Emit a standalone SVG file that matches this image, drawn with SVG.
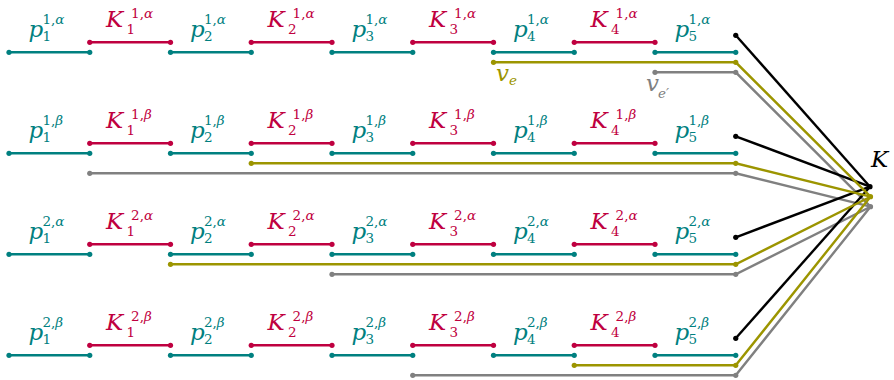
<svg xmlns="http://www.w3.org/2000/svg" width="894" height="380" viewBox="0 0 894 380">
<style>
.m{font-family:"DejaVu Serif",serif;font-style:italic;font-size:23px}
.s{font-family:"DejaVu Serif",serif;font-size:13.5px}
.i{font-style:italic}
.ct{fill:#008080}.cr{fill:#BF0040}.co{fill:#9C9500}.cg{fill:#808080}.ck{fill:#000}
.lt,.lr,.lo,.lg,.lk{stroke-width:2.4;fill:none}
.lt{stroke:#008080}.lr{stroke:#BF0040}.lo{stroke:#9C9500}.lg{stroke:#808080}.lk{stroke:#000}
</style>
<defs>
<circle id="d" r="2.6"/>
</defs>

<!-- Row 1 alpha -->
<g id="row-1a">
<g id="p1-1a"><line class="lt" x1="9" y1="52.3" x2="89.75" y2="52.3"/><use href="#d" class="ct" x="9" y="52.3"/><use href="#d" class="ct" x="89.75" y="52.3"/>
<text class="m ct" x="28.4" y="36.8">p</text><text class="s ct" x="42.4" y="40.8">1</text><text class="s ct" x="42.4" y="23.8">1,<tspan class="i">α</tspan></text></g>
<g id="K1-1a"><line class="lr" x1="89.75" y1="42.3" x2="170.5" y2="42.3"/><use href="#d" class="cr" x="89.75" y="42.3"/><use href="#d" class="cr" x="170.5" y="42.3"/>
<text class="m cr" x="106.1" y="26.7">K</text><text class="s cr" x="126.5" y="34.3">1</text><text class="s cr" x="131.1" y="17.8">1,<tspan class="i">α</tspan></text></g>
<g id="p2-1a"><line class="lt" x1="170.5" y1="52.3" x2="251.25" y2="52.3"/><use href="#d" class="ct" x="170.5" y="52.3"/><use href="#d" class="ct" x="251.25" y="52.3"/>
<text class="m ct" x="189.9" y="36.8">p</text><text class="s ct" x="203.9" y="40.8">2</text><text class="s ct" x="203.9" y="23.8">1,<tspan class="i">α</tspan></text></g>
<g id="K2-1a"><line class="lr" x1="251.25" y1="42.3" x2="332" y2="42.3"/><use href="#d" class="cr" x="251.25" y="42.3"/><use href="#d" class="cr" x="332" y="42.3"/>
<text class="m cr" x="267.6" y="26.7">K</text><text class="s cr" x="288" y="34.3">2</text><text class="s cr" x="292.6" y="17.8">1,<tspan class="i">α</tspan></text></g>
<g id="p3-1a"><line class="lt" x1="332" y1="52.3" x2="412.75" y2="52.3"/><use href="#d" class="ct" x="332" y="52.3"/><use href="#d" class="ct" x="412.75" y="52.3"/>
<text class="m ct" x="351.4" y="36.8">p</text><text class="s ct" x="365.4" y="40.8">3</text><text class="s ct" x="365.4" y="23.8">1,<tspan class="i">α</tspan></text></g>
<g id="K3-1a"><line class="lr" x1="412.75" y1="42.3" x2="493.5" y2="42.3"/><use href="#d" class="cr" x="412.75" y="42.3"/><use href="#d" class="cr" x="493.5" y="42.3"/>
<text class="m cr" x="429.1" y="26.7">K</text><text class="s cr" x="449.5" y="34.3">3</text><text class="s cr" x="454.1" y="17.8">1,<tspan class="i">α</tspan></text></g>
<g id="p4-1a"><line class="lt" x1="493.5" y1="52.3" x2="574.25" y2="52.3"/><use href="#d" class="ct" x="493.5" y="52.3"/><use href="#d" class="ct" x="574.25" y="52.3"/>
<text class="m ct" x="512.9" y="36.8">p</text><text class="s ct" x="526.9" y="40.8">4</text><text class="s ct" x="526.9" y="23.8">1,<tspan class="i">α</tspan></text></g>
<g id="K4-1a"><line class="lr" x1="574.25" y1="42.3" x2="655" y2="42.3"/><use href="#d" class="cr" x="574.25" y="42.3"/><use href="#d" class="cr" x="655" y="42.3"/>
<text class="m cr" x="590.6" y="26.7">K</text><text class="s cr" x="611" y="34.3">4</text><text class="s cr" x="615.6" y="17.8">1,<tspan class="i">α</tspan></text></g>
<g id="p5-1a"><line class="lt" x1="655" y1="52.3" x2="735.75" y2="52.3"/><use href="#d" class="ct" x="655" y="52.3"/><use href="#d" class="ct" x="735.75" y="52.3"/>
<text class="m ct" x="674.4" y="36.8">p</text><text class="s ct" x="688.4" y="40.8">5</text><text class="s ct" x="688.4" y="23.8">1,<tspan class="i">α</tspan></text></g>
</g>

<!-- Row 1 beta -->
<g id="row-1b">
<g id="p1-1b"><line class="lt" x1="9" y1="153.3" x2="89.75" y2="153.3"/><use href="#d" class="ct" x="9" y="153.3"/><use href="#d" class="ct" x="89.75" y="153.3"/>
<text class="m ct" x="28.4" y="137.8">p</text><text class="s ct" x="42.4" y="141.8">1</text><text class="s ct" x="42.4" y="124.8">1,<tspan class="i">β</tspan></text></g>
<g id="K1-1b"><line class="lr" x1="89.75" y1="143.3" x2="170.5" y2="143.3"/><use href="#d" class="cr" x="89.75" y="143.3"/><use href="#d" class="cr" x="170.5" y="143.3"/>
<text class="m cr" x="106.1" y="127.7">K</text><text class="s cr" x="126.5" y="135.3">1</text><text class="s cr" x="131.1" y="118.8">1,<tspan class="i">β</tspan></text></g>
<g id="p2-1b"><line class="lt" x1="170.5" y1="153.3" x2="251.25" y2="153.3"/><use href="#d" class="ct" x="170.5" y="153.3"/><use href="#d" class="ct" x="251.25" y="153.3"/>
<text class="m ct" x="189.9" y="137.8">p</text><text class="s ct" x="203.9" y="141.8">2</text><text class="s ct" x="203.9" y="124.8">1,<tspan class="i">β</tspan></text></g>
<g id="K2-1b"><line class="lr" x1="251.25" y1="143.3" x2="332" y2="143.3"/><use href="#d" class="cr" x="251.25" y="143.3"/><use href="#d" class="cr" x="332" y="143.3"/>
<text class="m cr" x="267.6" y="127.7">K</text><text class="s cr" x="288" y="135.3">2</text><text class="s cr" x="292.6" y="118.8">1,<tspan class="i">β</tspan></text></g>
<g id="p3-1b"><line class="lt" x1="332" y1="153.3" x2="412.75" y2="153.3"/><use href="#d" class="ct" x="332" y="153.3"/><use href="#d" class="ct" x="412.75" y="153.3"/>
<text class="m ct" x="351.4" y="137.8">p</text><text class="s ct" x="365.4" y="141.8">3</text><text class="s ct" x="365.4" y="124.8">1,<tspan class="i">β</tspan></text></g>
<g id="K3-1b"><line class="lr" x1="412.75" y1="143.3" x2="493.5" y2="143.3"/><use href="#d" class="cr" x="412.75" y="143.3"/><use href="#d" class="cr" x="493.5" y="143.3"/>
<text class="m cr" x="429.1" y="127.7">K</text><text class="s cr" x="449.5" y="135.3">3</text><text class="s cr" x="454.1" y="118.8">1,<tspan class="i">β</tspan></text></g>
<g id="p4-1b"><line class="lt" x1="493.5" y1="153.3" x2="574.25" y2="153.3"/><use href="#d" class="ct" x="493.5" y="153.3"/><use href="#d" class="ct" x="574.25" y="153.3"/>
<text class="m ct" x="512.9" y="137.8">p</text><text class="s ct" x="526.9" y="141.8">4</text><text class="s ct" x="526.9" y="124.8">1,<tspan class="i">β</tspan></text></g>
<g id="K4-1b"><line class="lr" x1="574.25" y1="143.3" x2="655" y2="143.3"/><use href="#d" class="cr" x="574.25" y="143.3"/><use href="#d" class="cr" x="655" y="143.3"/>
<text class="m cr" x="590.6" y="127.7">K</text><text class="s cr" x="611" y="135.3">4</text><text class="s cr" x="615.6" y="118.8">1,<tspan class="i">β</tspan></text></g>
<g id="p5-1b"><line class="lt" x1="655" y1="153.3" x2="735.75" y2="153.3"/><use href="#d" class="ct" x="655" y="153.3"/><use href="#d" class="ct" x="735.75" y="153.3"/>
<text class="m ct" x="674.4" y="137.8">p</text><text class="s ct" x="688.4" y="141.8">5</text><text class="s ct" x="688.4" y="124.8">1,<tspan class="i">β</tspan></text></g>
</g>

<!-- Row 2 alpha -->
<g id="row-2a">
<g id="p1-2a"><line class="lt" x1="9" y1="254.3" x2="89.75" y2="254.3"/><use href="#d" class="ct" x="9" y="254.3"/><use href="#d" class="ct" x="89.75" y="254.3"/>
<text class="m ct" x="28.4" y="238.8">p</text><text class="s ct" x="42.4" y="242.8">1</text><text class="s ct" x="42.4" y="225.8">2,<tspan class="i">α</tspan></text></g>
<g id="K1-2a"><line class="lr" x1="89.75" y1="244.3" x2="170.5" y2="244.3"/><use href="#d" class="cr" x="89.75" y="244.3"/><use href="#d" class="cr" x="170.5" y="244.3"/>
<text class="m cr" x="106.1" y="228.7">K</text><text class="s cr" x="126.5" y="236.3">1</text><text class="s cr" x="131.1" y="219.8">2,<tspan class="i">α</tspan></text></g>
<g id="p2-2a"><line class="lt" x1="170.5" y1="254.3" x2="251.25" y2="254.3"/><use href="#d" class="ct" x="170.5" y="254.3"/><use href="#d" class="ct" x="251.25" y="254.3"/>
<text class="m ct" x="189.9" y="238.8">p</text><text class="s ct" x="203.9" y="242.8">2</text><text class="s ct" x="203.9" y="225.8">2,<tspan class="i">α</tspan></text></g>
<g id="K2-2a"><line class="lr" x1="251.25" y1="244.3" x2="332" y2="244.3"/><use href="#d" class="cr" x="251.25" y="244.3"/><use href="#d" class="cr" x="332" y="244.3"/>
<text class="m cr" x="267.6" y="228.7">K</text><text class="s cr" x="288" y="236.3">2</text><text class="s cr" x="292.6" y="219.8">2,<tspan class="i">α</tspan></text></g>
<g id="p3-2a"><line class="lt" x1="332" y1="254.3" x2="412.75" y2="254.3"/><use href="#d" class="ct" x="332" y="254.3"/><use href="#d" class="ct" x="412.75" y="254.3"/>
<text class="m ct" x="351.4" y="238.8">p</text><text class="s ct" x="365.4" y="242.8">3</text><text class="s ct" x="365.4" y="225.8">2,<tspan class="i">α</tspan></text></g>
<g id="K3-2a"><line class="lr" x1="412.75" y1="244.3" x2="493.5" y2="244.3"/><use href="#d" class="cr" x="412.75" y="244.3"/><use href="#d" class="cr" x="493.5" y="244.3"/>
<text class="m cr" x="429.1" y="228.7">K</text><text class="s cr" x="449.5" y="236.3">3</text><text class="s cr" x="454.1" y="219.8">2,<tspan class="i">α</tspan></text></g>
<g id="p4-2a"><line class="lt" x1="493.5" y1="254.3" x2="574.25" y2="254.3"/><use href="#d" class="ct" x="493.5" y="254.3"/><use href="#d" class="ct" x="574.25" y="254.3"/>
<text class="m ct" x="512.9" y="238.8">p</text><text class="s ct" x="526.9" y="242.8">4</text><text class="s ct" x="526.9" y="225.8">2,<tspan class="i">α</tspan></text></g>
<g id="K4-2a"><line class="lr" x1="574.25" y1="244.3" x2="655" y2="244.3"/><use href="#d" class="cr" x="574.25" y="244.3"/><use href="#d" class="cr" x="655" y="244.3"/>
<text class="m cr" x="590.6" y="228.7">K</text><text class="s cr" x="611" y="236.3">4</text><text class="s cr" x="615.6" y="219.8">2,<tspan class="i">α</tspan></text></g>
<g id="p5-2a"><line class="lt" x1="655" y1="254.3" x2="735.75" y2="254.3"/><use href="#d" class="ct" x="655" y="254.3"/><use href="#d" class="ct" x="735.75" y="254.3"/>
<text class="m ct" x="674.4" y="238.8">p</text><text class="s ct" x="688.4" y="242.8">5</text><text class="s ct" x="688.4" y="225.8">2,<tspan class="i">α</tspan></text></g>
</g>

<!-- Row 2 beta -->
<g id="row-2b">
<g id="p1-2b"><line class="lt" x1="9" y1="355.3" x2="89.75" y2="355.3"/><use href="#d" class="ct" x="9" y="355.3"/><use href="#d" class="ct" x="89.75" y="355.3"/>
<text class="m ct" x="28.4" y="339.8">p</text><text class="s ct" x="42.4" y="343.8">1</text><text class="s ct" x="42.4" y="326.8">2,<tspan class="i">β</tspan></text></g>
<g id="K1-2b"><line class="lr" x1="89.75" y1="345.3" x2="170.5" y2="345.3"/><use href="#d" class="cr" x="89.75" y="345.3"/><use href="#d" class="cr" x="170.5" y="345.3"/>
<text class="m cr" x="106.1" y="329.7">K</text><text class="s cr" x="126.5" y="337.3">1</text><text class="s cr" x="131.1" y="320.8">2,<tspan class="i">β</tspan></text></g>
<g id="p2-2b"><line class="lt" x1="170.5" y1="355.3" x2="251.25" y2="355.3"/><use href="#d" class="ct" x="170.5" y="355.3"/><use href="#d" class="ct" x="251.25" y="355.3"/>
<text class="m ct" x="189.9" y="339.8">p</text><text class="s ct" x="203.9" y="343.8">2</text><text class="s ct" x="203.9" y="326.8">2,<tspan class="i">β</tspan></text></g>
<g id="K2-2b"><line class="lr" x1="251.25" y1="345.3" x2="332" y2="345.3"/><use href="#d" class="cr" x="251.25" y="345.3"/><use href="#d" class="cr" x="332" y="345.3"/>
<text class="m cr" x="267.6" y="329.7">K</text><text class="s cr" x="288" y="337.3">2</text><text class="s cr" x="292.6" y="320.8">2,<tspan class="i">β</tspan></text></g>
<g id="p3-2b"><line class="lt" x1="332" y1="355.3" x2="412.75" y2="355.3"/><use href="#d" class="ct" x="332" y="355.3"/><use href="#d" class="ct" x="412.75" y="355.3"/>
<text class="m ct" x="351.4" y="339.8">p</text><text class="s ct" x="365.4" y="343.8">3</text><text class="s ct" x="365.4" y="326.8">2,<tspan class="i">β</tspan></text></g>
<g id="K3-2b"><line class="lr" x1="412.75" y1="345.3" x2="493.5" y2="345.3"/><use href="#d" class="cr" x="412.75" y="345.3"/><use href="#d" class="cr" x="493.5" y="345.3"/>
<text class="m cr" x="429.1" y="329.7">K</text><text class="s cr" x="449.5" y="337.3">3</text><text class="s cr" x="454.1" y="320.8">2,<tspan class="i">β</tspan></text></g>
<g id="p4-2b"><line class="lt" x1="493.5" y1="355.3" x2="574.25" y2="355.3"/><use href="#d" class="ct" x="493.5" y="355.3"/><use href="#d" class="ct" x="574.25" y="355.3"/>
<text class="m ct" x="512.9" y="339.8">p</text><text class="s ct" x="526.9" y="343.8">4</text><text class="s ct" x="526.9" y="326.8">2,<tspan class="i">β</tspan></text></g>
<g id="K4-2b"><line class="lr" x1="574.25" y1="345.3" x2="655" y2="345.3"/><use href="#d" class="cr" x="574.25" y="345.3"/><use href="#d" class="cr" x="655" y="345.3"/>
<text class="m cr" x="590.6" y="329.7">K</text><text class="s cr" x="611" y="337.3">4</text><text class="s cr" x="615.6" y="320.8">2,<tspan class="i">β</tspan></text></g>
<g id="p5-2b"><line class="lt" x1="655" y1="355.3" x2="735.75" y2="355.3"/><use href="#d" class="ct" x="655" y="355.3"/><use href="#d" class="ct" x="735.75" y="355.3"/>
<text class="m ct" x="674.4" y="339.8">p</text><text class="s ct" x="688.4" y="343.8">5</text><text class="s ct" x="688.4" y="326.8">2,<tspan class="i">β</tspan></text></g>
</g>

<!-- K node -->
<g id="K">
<text class="m ck" x="871" y="166.7">K</text>
</g>

<!-- connectors -->
<g id="connectors">
<polyline class="lg" points="655,72.3 735.75,72.3 870.5,206.7"/>
<polyline class="lg" points="89.75,173.3 735.75,173.3 870.5,206.7"/>
<polyline class="lg" points="332,274.3 735.75,274.3 870.5,206.7"/>
<polyline class="lg" points="412.75,375.3 735.75,375.3 870.5,206.7"/>
<g class="cg">
<use href="#d" x="655" y="72.3"/><use href="#d" x="735.75" y="72.3"/>
<use href="#d" x="89.75" y="173.3"/><use href="#d" x="735.75" y="173.3"/>
<use href="#d" x="332" y="274.3"/><use href="#d" x="735.75" y="274.3"/>
<use href="#d" x="412.75" y="375.3"/><use href="#d" x="735.75" y="375.3"/>
<use href="#d" x="870.5" y="206.7"/>
</g>
<line class="lk" x1="735.75" y1="35.3" x2="870" y2="186.7"/>
<line class="lk" x1="735.75" y1="136.3" x2="870" y2="186.7"/>
<line class="lk" x1="735.75" y1="237.3" x2="870" y2="186.7"/>
<line class="lk" x1="735.75" y1="338.3" x2="870" y2="186.7"/>
<g class="ck">
<use href="#d" x="735.75" y="35.3"/><use href="#d" x="735.75" y="136.3"/><use href="#d" x="735.75" y="237.3"/><use href="#d" x="735.75" y="338.3"/>
<use href="#d" x="870" y="186.7"/>
</g>
<polyline class="lo" points="493.5,62.3 735.75,62.3 870.5,196.7"/>
<polyline class="lo" points="251.25,163.3 735.75,163.3 870.5,196.7"/>
<polyline class="lo" points="170.5,264.3 735.75,264.3 870.5,196.7"/>
<polyline class="lo" points="574.25,365.3 735.75,365.3 870.5,196.7"/>
<g class="co">
<use href="#d" x="493.5" y="62.3"/><use href="#d" x="735.75" y="62.3"/>
<use href="#d" x="251.25" y="163.3"/><use href="#d" x="735.75" y="163.3"/>
<use href="#d" x="170.5" y="264.3"/><use href="#d" x="735.75" y="264.3"/>
<use href="#d" x="574.25" y="365.3"/><use href="#d" x="735.75" y="365.3"/>
<use href="#d" x="870.5" y="196.7"/>
</g>
<text class="m co" x="496" y="81">v</text><text class="s co i" x="509" y="85">e</text>
<text class="m cg" x="646" y="91">v</text><text class="s cg i" x="658" y="97.5">e′</text>
</g>
</svg>
